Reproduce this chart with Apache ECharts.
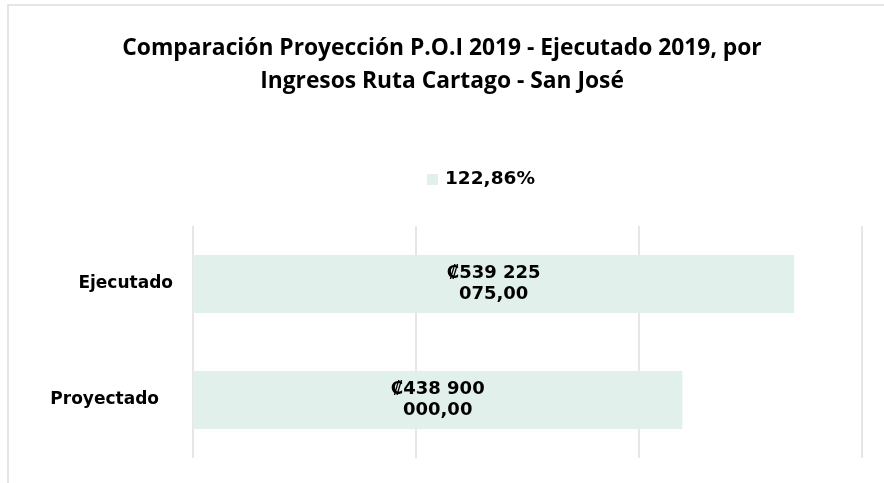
<!DOCTYPE html>
<html>
<head>
<meta charset="utf-8">
<script src="https://cdn.jsdelivr.net/npm/echarts@6/dist/echarts.min.js"></script>
<style>
  html, body { margin: 0; padding: 0; background: #fff; }
  #chart { width: 884px; height: 483px; }
</style>
</head>
<body>
<div id="chart"></div>
<script>
const categories = ['Proyectado', 'Ejecutado'];
const values = [438900000, 539225075];
const seriesName = '122,86%';

// "539225075" -> "₡539 225\n075,00"
function colones(v) {
  const s = Math.round(v).toString().padStart(9, '0');
  return `₡${s.slice(0, 3)} ${s.slice(3, 6)}\n${s.slice(6)},00`;
}

const chart = echarts.init(document.getElementById('chart'));
const font = '"DejaVu Sans", sans-serif';

chart.setOption({
  animation: false,
  title: {
    text: 'Comparación Proyección P.O.I 2019 - Ejecutado 2019, por\nIngresos Ruta Cartago - San José',
    left: 'center',
    top: 27,
    textStyle: {
      fontFamily: '"Open Sans", sans-serif',
      fontWeight: 'bold',
      fontSize: 22.8,
      lineHeight: 33,
      color: '#000'
    }
  },
  legend: {
    top: 165,
    left: 422,
    itemWidth: 11,
    itemHeight: 11,
    itemGap: 4,
    icon: 'rect',
    textStyle: { fontFamily: font, fontWeight: 'bold', fontSize: 18.5, color: '#000', padding: [0, 0, 0, 2] },
    data: [seriesName]
  },
  graphic: [{
    type: 'rect',
    shape: { x: 8, y: 5, width: 900, height: 500 },
    style: { fill: 'none', stroke: '#dcdce3', lineWidth: 1.5 },
    silent: true
  }],
  grid: { left: 193, right: 22, top: 226, bottom: 25 },
  xAxis: {
    type: 'value',
    min: 0,
    max: 600000000,
    interval: 200000000,
    axisLine: { show: false },
    axisTick: { show: false },
    axisLabel: { show: false },
    splitLine: { lineStyle: { color: '#dcdce3', width: 1.5 } }
  },
  yAxis: {
    type: 'category',
    data: categories,
    axisLine: { show: false },
    axisTick: { show: false },
    axisLabel: {
      margin: 20,
      formatter: v => v === 'Proyectado' ? `{p|${v}}` : `{e|${v}}`,
      rich: {
        e: { fontFamily: font, fontWeight: 'bold', fontSize: 17, color: '#000' },
        p: { fontFamily: font, fontWeight: 'bold', fontSize: 17, color: '#000', padding: [0, 14, 0, 0] }
      }
    }
  },
  series: [{
    name: seriesName,
    type: 'bar',
    data: values,
    barCategoryGap: '50%',
    itemStyle: { color: '#e2f0eb' },
    label: {
      show: true,
      position: 'inside',
      formatter: p => colones(p.value),
      fontFamily: font,
      fontWeight: 'bold',
      fontSize: 18,
      lineHeight: 21,
      color: '#000'
    }
  }]
});
</script>
</body>
</html>
